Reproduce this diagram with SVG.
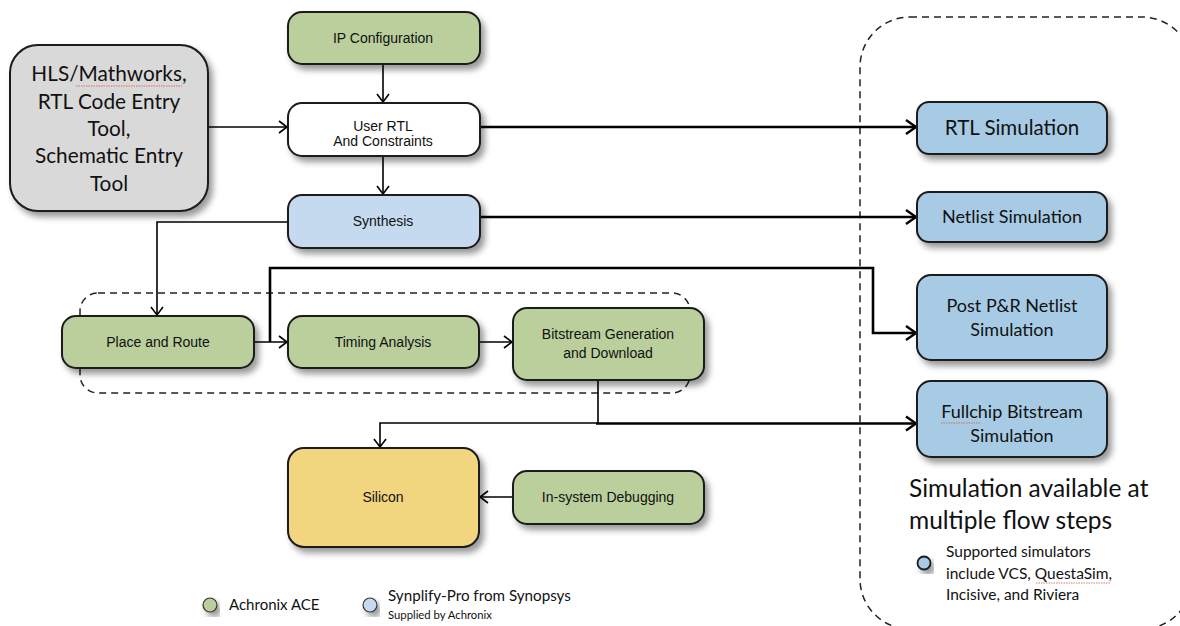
<svg xmlns="http://www.w3.org/2000/svg" width="1180" height="626" viewBox="0 0 1180 626">
<defs>
<filter id="sh" x="-20%" y="-20%" width="140%" height="150%">
<feDropShadow dx="4" dy="5" stdDeviation="3" flood-color="#000" flood-opacity="0.4"/>
</filter>
<marker id="ah" markerUnits="userSpaceOnUse" markerWidth="12" markerHeight="14" refX="9" refY="6" orient="auto" overflow="visible">
<path d="M1,0 L9,6 L1,12" fill="none" stroke="#000" stroke-width="1.6"/>
</marker>
<marker id="ahk" markerUnits="userSpaceOnUse" markerWidth="14" markerHeight="16" refX="11" refY="7" orient="auto" overflow="visible">
<path d="M1,0 L11,7 L1,14" fill="none" stroke="#000" stroke-width="2.4"/>
</marker>
<style>
.n{stroke:#1a1a1a;stroke-width:2;filter:url(#sh)}
.g{fill:#bacf9c}
.b{fill:#c6daef}
.s{fill:#a7cbe5}
.t{font-family:"Liberation Sans",Arial,sans-serif;font-size:14px;fill:#111;text-anchor:middle}
.c{font-family:Lato,"Liberation Sans",sans-serif;fill:#111}
.w{fill:none;stroke:#000;stroke-width:1.6}
.k{fill:none;stroke:#000;stroke-width:2.6}
.d{fill:none;stroke:#222;stroke-width:1.5;stroke-dasharray:7,5}
.sq{fill:none;stroke:#e05050;stroke-width:1;stroke-dasharray:1.5,1;opacity:0.8}
</style>
</defs>
<rect width="1180" height="626" fill="#fff"/>

<g id="groups">
<rect class="d" x="80" y="293" width="610" height="100" rx="18"/>
<rect class="d" x="860" y="17" width="332" height="612" rx="50"/>
</g>

<g id="connectors">
<path class="w" d="M383,64 V102" marker-end="url(#ah)"/>
<path class="w" d="M383,156 V194" marker-end="url(#ah)"/>
<path class="w" d="M208,127 H287" marker-end="url(#ah)"/>
<path class="w" d="M288,222 H157 V315" marker-end="url(#ah)"/>
<path class="w" d="M254,342 H287" marker-end="url(#ah)"/>
<path class="w" d="M479,342 H512" marker-end="url(#ah)"/>
<path class="w" d="M598,380 V423 H380 V447" marker-end="url(#ah)"/>
<path class="w" d="M513,497 H480" marker-end="url(#ah)"/>
<path class="k" d="M480,127 H916" marker-end="url(#ahk)"/>
<path class="k" d="M480,217 H916" marker-end="url(#ahk)"/>
<path class="k" d="M270,342 V268 H873 V333 H916" marker-end="url(#ahk)"/>
<path class="k" d="M596,423.5 H916" marker-end="url(#ahk)"/>
</g>

<g id="hls">
<rect class="n" x="10" y="45" width="198" height="166" rx="28" fill="#d9d9d9"/>
<text class="c" font-size="20.8" text-anchor="middle"><tspan x="109" y="81">HLS/Mathworks,</tspan><tspan x="109" y="109">RTL Code Entry</tspan><tspan x="109" y="136">Tool,</tspan><tspan x="109" y="163">Schematic Entry</tspan><tspan x="109" y="191">Tool</tspan></text>
<path class="sq" d="M76,86 H182"/>
</g>

<g id="ipconfig">
<rect class="n g" x="288" y="12" width="192" height="52" rx="14"/>
<text class="t" x="383" y="43">IP Configuration</text>
</g>

<g id="userrtl">
<rect class="n" x="288" y="103" width="192" height="53" rx="14" fill="#fff"/>
<text class="t" x="383" y="131" font-size="13">User RTL</text>
<text class="t" x="383" y="145.5" font-size="10.5">And Constraints</text>
</g>

<g id="synthesis">
<rect class="n b" x="288" y="195" width="192" height="53" rx="14"/>
<text class="t" x="383" y="226">Synthesis</text>
</g>

<g id="placeroute">
<rect class="n g" x="62" y="316" width="192" height="52" rx="14"/>
<text class="t" x="158" y="347">Place and Route</text>
</g>

<g id="timing">
<rect class="n g" x="288" y="316" width="191" height="52" rx="14"/>
<text class="t" x="383" y="347">Timing Analysis</text>
</g>

<g id="bitstream">
<rect class="n g" x="513" y="308" width="191" height="72" rx="14"/>
<text class="t" x="608" y="339">Bitstream Generation</text>
<text class="t" x="608" y="358">and Download</text>
</g>

<g id="silicon">
<rect class="n" x="288" y="448" width="191" height="99" rx="16" fill="#f1d57f"/>
<text class="t" x="383" y="502">Silicon</text>
</g>

<g id="debug">
<rect class="n g" x="513" y="471" width="191" height="53" rx="14"/>
<text class="t" x="608" y="502">In-system Debugging</text>
</g>

<g id="rtlsim">
<rect class="n s" x="917" y="102" width="190" height="52" rx="12"/>
<text class="c" x="1012" y="135" font-size="20.5" text-anchor="middle">RTL Simulation</text>
</g>

<g id="netlistsim">
<rect class="n s" x="917" y="192" width="190" height="50" rx="12"/>
<text class="c" x="1012" y="223" font-size="18" text-anchor="middle">Netlist Simulation</text>
</g>

<g id="postpr">
<rect class="n s" x="917" y="275" width="190" height="85" rx="14"/>
<text class="c" x="1012" y="312" font-size="18" text-anchor="middle">Post P&amp;R Netlist</text>
<text class="c" x="1012" y="336" font-size="18" text-anchor="middle">Simulation</text>
</g>

<g id="fullchip">
<rect class="n s" x="917" y="381" width="190" height="76" rx="14"/>
<text class="c" x="1012" y="418" font-size="18" text-anchor="middle">Fullchip Bitstream</text>
<text class="c" x="1012" y="442" font-size="18" text-anchor="middle">Simulation</text>
<path class="sq" d="M941,423 H981"/>
</g>

<g id="simnote">
<text class="c" x="909" y="497" font-size="24.5">Simulation available at</text>
<text class="c" x="909" y="529" font-size="24.5">multiple flow steps</text>
<circle cx="924" cy="563" r="6.5" fill="#a7cbe5" stroke="#1a1a1a" stroke-width="1.8" filter="url(#sh)"/>
<text class="c" font-size="15.5"><tspan x="946" y="557">Supported simulators</tspan><tspan x="946" y="579">include VCS, QuestaSim,</tspan><tspan x="946" y="600">Incisive, and Riviera</tspan></text>
<path class="sq" d="M1036,583 H1110"/>
</g>

<g id="legend">
<circle cx="210" cy="605" r="7" fill="#bacf9c" stroke="#333" stroke-width="1.2" filter="url(#sh)"/>
<text class="c" x="229" y="610" font-size="15">Achronix ACE</text>
<circle cx="370" cy="605" r="7" fill="#c6daef" stroke="#333" stroke-width="1.2" filter="url(#sh)"/>
<text class="c" x="388" y="601" font-size="15.2">Synplify-Pro from Synopsys</text>
<text class="c" x="388" y="619" font-size="11.3">Supplied by Achronix</text>
</g>
</svg>
